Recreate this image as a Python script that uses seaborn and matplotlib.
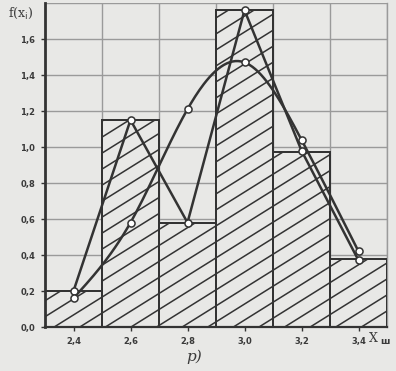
import numpy as np
import pandas as pd
import matplotlib
matplotlib.use("Agg")
import matplotlib.pyplot as plt
import seaborn as sns
from matplotlib.collections import LineCollection

# ---- data ----
bin_edges = [2.3, 2.5, 2.7, 2.9, 3.1, 3.3, 3.5]
bin_mids = [2.4, 2.6, 2.8, 3.0, 3.2, 3.4]
hist_heights = [0.20, 1.15, 0.58, 1.76, 0.97, 0.38]
polygon_y = [0.20, 1.15, 0.58, 1.76, 0.98, 0.37]
curve_y = [0.16, 0.58, 1.21, 1.47, 1.04, 0.42]
y_ticks = [0.0, 0.2, 0.4, 0.6, 0.8, 1.0, 1.2, 1.4, 1.6]
y_tick_labels = ["0,0", "0,2", "0,4", "0,6", "0,8", "1,0", "1,2", "1,4", "1,6"]
x_ticks = [2.4, 2.6, 2.8, 3.0, 3.2, 3.4]
x_tick_labels = ["2,4", "2,6", "2,8", "3,0", "3,2", "3,4"]

PAPER = "#e8e8e6"
INK = "#333333"
GRID = "#9a9a9a"

sns.set_theme(style="white")
plt.rcParams["font.family"] = ["DejaVu Sans"]

fig = plt.figure(figsize=(3.96, 3.71), dpi=100, facecolor=PAPER)
ax = fig.add_axes([45 / 396, 44 / 371, 342 / 396, 324 / 371])
ax.set_facecolor(PAPER)

df = pd.DataFrame({"x": bin_mids, "h": hist_heights})
sns.histplot(data=df, x="x", weights="h", bins=bin_edges, stat="count",
             color=PAPER, alpha=1.0, edgecolor=INK, linewidth=1.4, ax=ax, zorder=2)
bars = list(ax.patches)

ax.set_xlim(2.3, 3.5)
ax.set_ylim(0, 1.8)

# grid
ax.set_yticks(y_ticks)
ax.set_yticklabels(y_tick_labels)
ax.set_xticks(x_ticks)
ax.set_xticklabels(x_tick_labels)
for yv in y_ticks[1:] + [1.8]:
    ax.axhline(yv, color=GRID, lw=1.0, zorder=1)
for xv in bin_edges[1:]:
    ax.axvline(xv, color=GRID, lw=1.0, zorder=1)

# custom hatching (display-angle ~32 deg), clipped to each bar
slope = 0.625 * 342 / 324
spacing = 16 / 324
segs = []
c = -slope
while c < 1.0:
    segs.append([(0, c), (1, c + slope)])
    c += spacing
for p in bars:
    p.set_zorder(2)
    lc = LineCollection(segs, colors=INK, linewidths=1.1, transform=ax.transAxes, zorder=3)
    ax.add_collection(lc)
    lc.set_clip_path(p.get_path(), p.get_transform())
    ax.add_patch(plt.Rectangle(p.get_xy(), p.get_width(), p.get_height(), fill=False,
                               edgecolor=INK, lw=1.4, zorder=4))

# frequency polygon
sns.lineplot(x=bin_mids, y=polygon_y, color=INK, lw=1.8, ax=ax, zorder=5,
             estimator=None, sort=False)

# smooth theoretical curve through read points (natural cubic spline for drawing)
def natural_spline(xp, yp, n=200):
    xp = np.asarray(xp, float); yp = np.asarray(yp, float)
    k = len(xp); h = np.diff(xp)
    A = np.zeros((k, k)); b = np.zeros(k)
    A[0, 0] = A[-1, -1] = 1
    for i in range(1, k - 1):
        A[i, i - 1] = h[i - 1]; A[i, i] = 2 * (h[i - 1] + h[i]); A[i, i + 1] = h[i]
        b[i] = 6 * ((yp[i + 1] - yp[i]) / h[i] - (yp[i] - yp[i - 1]) / h[i - 1])
    M = np.linalg.solve(A, b)
    xs = np.linspace(xp[0], xp[-1], n); ys = np.empty_like(xs)
    for j, xv in enumerate(xs):
        i = min(np.searchsorted(xp, xv) - 1, k - 2); i = max(i, 0)
        t1 = xp[i + 1] - xv; t0 = xv - xp[i]
        ys[j] = (M[i] * t1 ** 3 + M[i + 1] * t0 ** 3) / (6 * h[i]) \
            + (yp[i] / h[i] - M[i] * h[i] / 6) * t1 + (yp[i + 1] / h[i] - M[i + 1] * h[i] / 6) * t0
    return xs, ys

cx, cy = natural_spline(bin_mids, curve_y)
sns.lineplot(x=cx, y=cy, color=INK, lw=1.8, ax=ax, zorder=5, estimator=None, sort=False)

# markers
ax.scatter(bin_mids, polygon_y, s=26, facecolor="white", edgecolor=INK, linewidth=1.1, zorder=6)
ax.scatter(bin_mids, curve_y, s=26, facecolor="white", edgecolor=INK, linewidth=1.1, zorder=6)

# spines / ticks
ax.spines["top"].set_visible(False)
ax.spines["right"].set_color(GRID)
ax.spines["right"].set_linewidth(1.0)
ax.spines["left"].set_color(INK)
ax.spines["left"].set_linewidth(2.0)
ax.spines["bottom"].set_color(INK)
ax.spines["bottom"].set_linewidth(1.6)
ax.tick_params(axis="both", which="major", length=3, width=1, color=INK,
               labelsize=6, labelcolor="#3a3a3a", pad=4, direction="out",
               bottom=True, left=True)
for lab in ax.get_xticklabels() + ax.get_yticklabels():
    lab.set_fontweight("bold")
ax.set_xlabel(""); ax.set_ylabel("")

fig.text(8 / 396, 1 - 13 / 371, r"f(x$_{\rm i}$)", fontsize=9, color="#3a3a3a", va="center",
         family="DejaVu Serif")
fig.text(369 / 396, 1 - 339 / 371, "X", fontsize=9, color="#3a3a3a", va="center", family="DejaVu Serif")
fig.text(380 / 396, 1 - 342 / 371, "ш", fontsize=6.5, color="#3a3a3a", va="center", fontweight="bold")
fig.text(186 / 396, 1 - 357 / 371, "p)", fontsize=11, color="#3a3a3a", va="center",
         style="italic", family="DejaVu Serif")

fig.savefig("out.png", dpi=100, facecolor=PAPER)
